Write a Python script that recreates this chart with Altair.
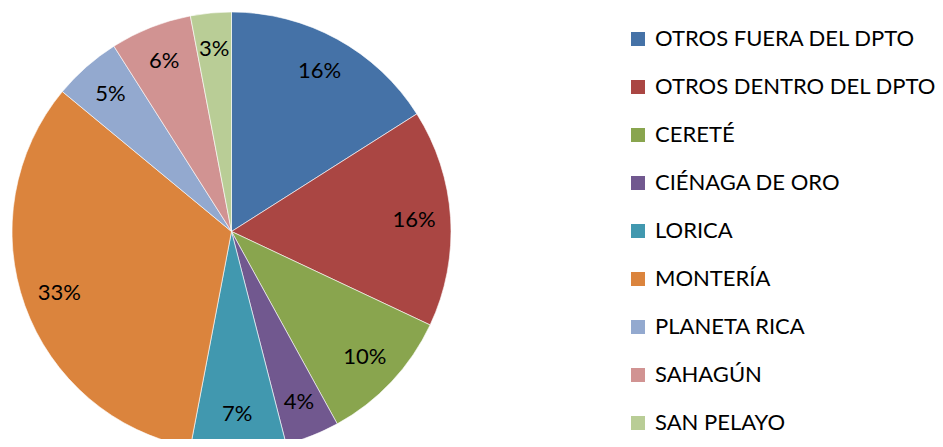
import altair as alt
import pandas as pd

categories = ["OTROS FUERA DEL DPTO", "OTROS DENTRO DEL DPTO", "CERETÉ", "CIÉNAGA DE ORO",
              "LORICA", "MONTERÍA", "PLANETA RICA", "SAHAGÚN", "SAN PELAYO"]
values = [16, 16, 10, 4, 7, 33, 5, 6, 3]
colors = ["#4572A7", "#AA4643", "#89A54E", "#71588F", "#4198AF", "#DB843D", "#93A9CF", "#D19392", "#B9CD96"]

df = pd.DataFrame({
    "cat": categories,
    "value": values,
    "idx": list(range(len(categories))),
    "label": [f"{v}%" for v in values],
})

CX, CY, R = 223.5, 223.5, 219.5

theta = alt.Theta("value:Q", stack=True)
order = alt.Order("idx:Q")

pie = alt.Chart(df).mark_arc(radius=R, stroke="white", strokeWidth=0.6).encode(
    theta=theta,
    order=order,
    x=alt.value(CX),
    y=alt.value(CY),
    color=alt.Color(
        "cat:N",
        scale=alt.Scale(domain=categories, range=colors),
        sort=categories,
        legend=alt.Legend(
            title=None,
            orient="none",
            legendX=619,
            legendY=20,
            padding=0,
            symbolType="square",
            symbolSize=196,
            symbolStrokeWidth=0,
            labelFont="Lato",
            labelFontSize=22,
            labelColor="black",
            labelOffset=6,
            labelLimit=400,
            rowPadding=26,
        ),
    ),
)

text = alt.Chart(df).mark_text(radius=183, fontSize=22, font="Lato", color="black").encode(
    theta=theta,
    order=order,
    x=alt.value(CX),
    y=alt.value(CY),
    text="label:N",
)

chart = alt.layer(pie, text).properties(
    width=927, height=431, padding=0, autosize=alt.AutoSizeParams(type="none")
).configure_view(stroke=None)

chart.save("out.html", embed_options={"renderer": "svg", "actions": False})
